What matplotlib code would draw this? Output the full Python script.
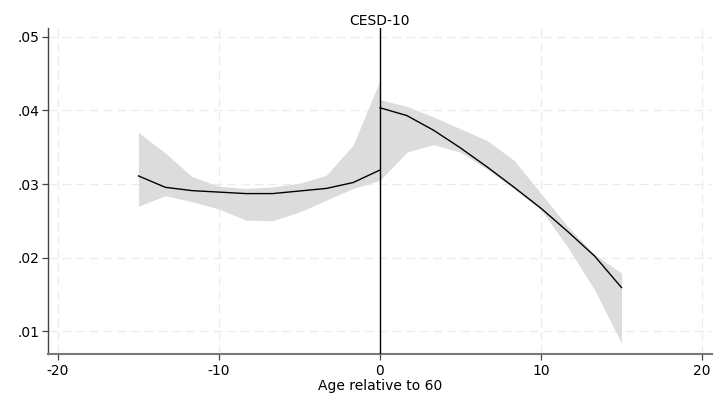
import matplotlib
matplotlib.use("Agg")
import matplotlib.pyplot as plt
import numpy as np

plt.rcParams['font.family'] = ['DejaVu Sans']

# Left of cutoff
x_left = [-15, -13.333, -11.667, -10, -8.333, -6.667, -5, -3.333, -1.667, 0]
y_left = [0.0311, 0.02955, 0.0291, 0.0289, 0.0287, 0.0287, 0.02905, 0.0294, 0.0302, 0.0319]
lo_left = [0.0270, 0.0284, 0.0276, 0.0266, 0.0251, 0.0250, 0.0262, 0.0278, 0.0294, 0.0305]
hi_left = [0.0370, 0.0342, 0.0310, 0.0297, 0.0294, 0.0296, 0.0301, 0.0312, 0.0353, 0.0441]

# Right of cutoff
x_right = [0, 1.667, 3.333, 5, 6.667, 8.333, 10, 11.667, 13.333, 15]
y_right = [0.04036, 0.0393, 0.0373, 0.0349, 0.0323, 0.02955, 0.0267, 0.02353, 0.0202, 0.01593]
lo_right = [0.0305, 0.03432, 0.03536, 0.0343, 0.0320, 0.0293, 0.0265, 0.0214, 0.0156, 0.0084]
hi_right = [0.04145, 0.04055, 0.0391, 0.0375, 0.0359, 0.0332, 0.0287, 0.0242, 0.0204, 0.0179]

x_ticks = [-20, -10, 0, 10, 20]
y_ticks = [0.01, 0.02, 0.03, 0.04, 0.05]
y_ticklabels = ['.01', '.02', '.03', '.04', '.05']

fig = plt.figure(figsize=(7.15, 3.96), dpi=100)
ax = fig.add_axes([48/715, 1-354/396, (712-48)/715, (354-28)/396])

band_color = '#dcdcdc'
ax.fill_between(x_left, lo_left, hi_left, color=band_color, lw=0, zorder=2)
ax.fill_between(x_right, lo_right, hi_right, color=band_color, lw=0, zorder=2)
ax.plot(x_left, y_left, color='black', lw=1.0, zorder=3)
ax.plot(x_right, y_right, color='black', lw=1.0, zorder=3)
ax.axvline(0, color='black', lw=1.0, zorder=4)

ax.set_xlim(-20.62, 20.62)
ax.set_ylim(0.0069, 0.0512)
ax.set_xticks(x_ticks)
ax.set_xticklabels([str(t) for t in x_ticks])
ax.set_yticks(y_ticks)
ax.set_yticklabels(y_ticklabels)

ax.grid(True, color='#ebebeb', linestyle=(0, (7, 4)), linewidth=0.9, zorder=0)
ax.set_axisbelow(True)

for s in ['top', 'right']:
    ax.spines[s].set_visible(False)
ax.spines['left'].set_color('#444444')
ax.spines['left'].set_linewidth(1.0)
ax.spines['bottom'].set_color('#777777')
ax.spines['bottom'].set_linewidth(1.5)

ax.tick_params(axis='both', direction='out', length=4, width=0.9, color='#444444',
               labelsize=10, labelcolor='black')
ax.tick_params(axis='y', pad=2)
ax.tick_params(axis='x', pad=3)

ax.set_xlabel('Age relative to 60', fontsize=10, labelpad=1)
ax.set_title('CESD-10', fontsize=10, pad=2)

fig.savefig('out.png', dpi=100)
